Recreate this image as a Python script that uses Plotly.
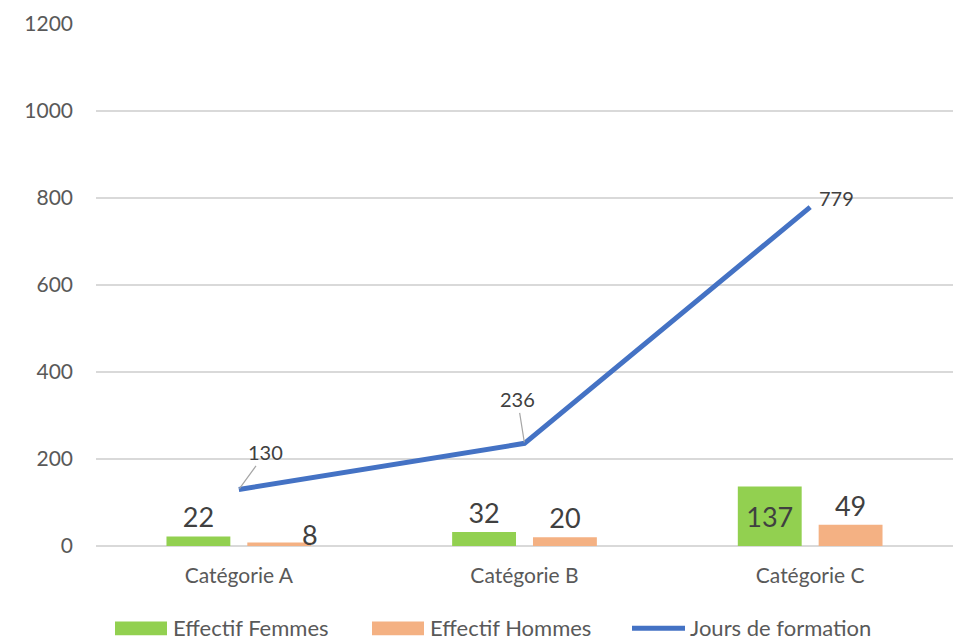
import plotly.graph_objects as go

# Training data by staff category
categories = ["Catégorie A", "Catégorie B", "Catégorie C"]
effectif_femmes = [22, 32, 137]
effectif_hommes = [8, 20, 49]
jours_formation = [130, 236, 779]
y_ticks = [0, 200, 400, 600, 800, 1000, 1200]

GREEN = "#92D050"
ORANGE = "#F4B183"
BLUE = "#4472C4"
FONT = "Lato"
TXT = "#404040"
AXIS_TXT = "#595959"

fig = go.Figure()

# Women headcount: labels above, except the tall bar labelled inside
fig.add_trace(go.Bar(
    x=categories, y=effectif_femmes, name="Effectif Femmes",
    marker=dict(color=GREEN, line=dict(width=0)),
    text=[str(v) for v in effectif_femmes],
    textposition=["outside", "outside", "inside"],
    insidetextanchor="middle",
    textfont=dict(family=FONT, size=27, color=TXT),
    cliponaxis=False,
))

# Men headcount: first label placed beside the bar via annotation
fig.add_trace(go.Bar(
    x=categories, y=effectif_hommes, name="Effectif Hommes",
    marker=dict(color=ORANGE, line=dict(width=0)),
    text=[""] + [str(v) for v in effectif_hommes[1:]],
    textposition="outside",
    textfont=dict(family=FONT, size=27, color=TXT),
    cliponaxis=False,
))

# Training days line
fig.add_trace(go.Scatter(
    x=categories, y=jours_formation, name="Jours de formation",
    mode="lines", line=dict(color=BLUE, width=5),
    cliponaxis=False,
))

annotations = []

# Label for the small men's bar, set to the right of it
annotations.append(dict(
    x=categories[0], y=effectif_hommes[0], xref="x", yref="y",
    text=str(effectif_hommes[0]), showarrow=False,
    xshift=71, yshift=8,
    font=dict(family=FONT, size=27, color=TXT),
))

# Line value labels with leader lines
line_offsets = [(27, -37, True), (-7, -44, True), (26, -9, False)]
for cat, val, (ax, ay, arrow) in zip(categories, jours_formation, line_offsets):
    if arrow:
        annotations.append(dict(
            x=cat, y=val, xref="x", yref="y", text=str(val),
            showarrow=True, arrowhead=0, arrowwidth=1.2, arrowcolor="#A6A6A6",
            ax=ax, ay=ay, standoff=1,
            font=dict(family=FONT, size=20, color=TXT),
        ))
    else:
        annotations.append(dict(
            x=cat, y=val, xref="x", yref="y", text=str(val),
            showarrow=False, xshift=ax, yshift=-ay,
            font=dict(family=FONT, size=20, color=TXT),
        ))

# Custom legend along the bottom
W, H, L, B = 963, 640, 96, 94
pw, ph = W - L - 10, H - 20 - B


def px(x):
    return (x - L) / pw


def py(y):
    return (H - B - y) / ph


shapes = [
    dict(type="rect", xref="paper", yref="paper",
         x0=px(115), x1=px(167), y0=py(636), y1=py(622),
         fillcolor=GREEN, line=dict(width=0)),
    dict(type="rect", xref="paper", yref="paper",
         x0=px(372), x1=px(424), y0=py(636), y1=py(622),
         fillcolor=ORANGE, line=dict(width=0)),
    dict(type="line", xref="paper", yref="paper",
         x0=px(632), x1=px(685), y0=py(629), y1=py(629),
         line=dict(color=BLUE, width=5)),
]
for name, x0 in [("Effectif Femmes", 171), ("Effectif Hommes", 428),
                 ("Jours de formation", 688)]:
    annotations.append(dict(
        x=px(x0), y=py(628), xref="paper", yref="paper", text=name,
        showarrow=False, xanchor="left", yanchor="middle",
        font=dict(family=FONT, size=22, color=AXIS_TXT),
    ))

fig.update_layout(
    width=W, height=H,
    margin=dict(l=L, r=10, t=20, b=B),
    paper_bgcolor="white", plot_bgcolor="white",
    barmode="group", bargap=0.434, bargroupgap=0.21,
    showlegend=False,
    annotations=annotations, shapes=shapes,
    uniformtext=dict(mode=None),
)
fig.update_xaxes(
    showgrid=False, showline=False, zeroline=False, ticks="",
    tickfont=dict(family=FONT, size=21, color=AXIS_TXT),
    ticklabelstandoff=15,
)
fig.update_yaxes(
    range=[0, 1200], tickvals=y_ticks, showgrid=True,
    gridcolor="#D9D9D9", gridwidth=1.5, zeroline=True,
    zerolinecolor="#D9D9D9", zerolinewidth=1.5,
    showline=False, ticks="",
    tickfont=dict(family=FONT, size=21, color=AXIS_TXT),
    ticklabelstandoff=22,
)

fig.write_html("out.html")
